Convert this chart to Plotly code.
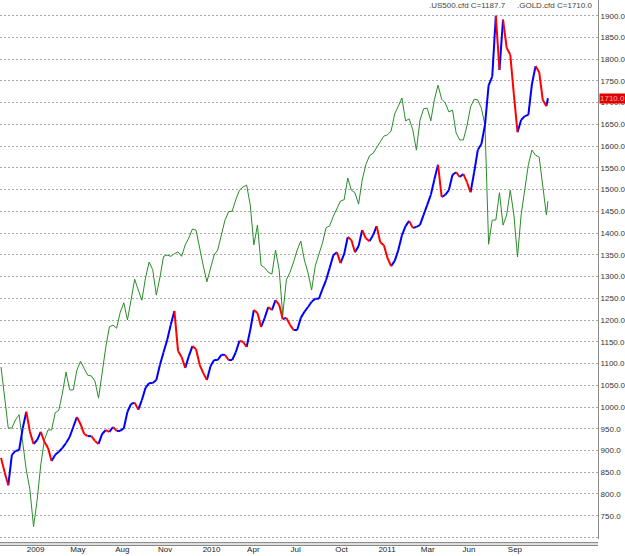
import plotly.graph_objects as go
import pandas as pd

# ---------------- data (weekly closes) ----------------
week_start = "2009-01-02"
last_day = "2011-11-28"

gold = [883, 850, 820, 890, 899, 901, 951, 989, 943, 915,
        924, 943, 920, 906, 876, 890, 897, 906, 917, 931,
        954, 977, 961, 938, 933, 933, 922, 915, 938, 947,
        943, 954, 945, 945, 951, 989, 1007, 1010, 994, 1016,
        1044, 1055, 1055, 1062, 1097, 1126, 1154, 1189, 1221, 1129,
        1115, 1090, 1117, 1140, 1133, 1097, 1078, 1062, 1094, 1108,
        1108, 1120, 1120, 1108, 1108, 1126, 1152, 1150, 1138, 1177,
        1223, 1216, 1184, 1205, 1230, 1223, 1246, 1235, 1202, 1205,
        1189, 1177, 1177, 1205, 1219, 1230, 1242, 1249, 1249, 1271,
        1292, 1320, 1349, 1356, 1331, 1352, 1391, 1384, 1356, 1370,
        1407, 1388, 1381, 1395, 1416, 1379, 1372, 1343, 1324, 1336,
        1361, 1395, 1416, 1428, 1412, 1414, 1419, 1442, 1465, 1488,
        1524, 1557, 1483, 1488, 1499, 1534, 1540, 1529, 1536, 1517,
        1494, 1540, 1591, 1605, 1649, 1740, 1760, 1900, 1775, 1891,
        1826, 1810, 1718, 1632, 1660, 1669, 1672, 1743, 1784, 1770,
        1706, 1692, 1710.0]

us500 = [927, 883, 831, 831, 844, 852, 812, 765, 734, 676,
         718, 773, 812, 828, 828, 855, 859, 886, 919, 891,
         891, 922, 936, 925, 914, 913, 905, 878, 922, 958,
         990, 993, 988, 1013, 1028, 1001, 1032, 1065, 1048, 1032,
         1067, 1092, 1080, 1040, 1068, 1101, 1103, 1101, 1105, 1108,
         1101, 1119, 1130, 1144, 1142, 1111, 1086, 1061, 1083, 1103,
         1111, 1135, 1158, 1171, 1172, 1190, 1205, 1210, 1213, 1182,
         1119, 1150, 1087, 1083, 1076, 1073, 1111, 1080, 1009, 1064,
         1076, 1092, 1111, 1125, 1095, 1075, 1048, 1086, 1103, 1122,
         1146, 1149, 1164, 1177, 1188, 1190, 1224, 1205, 1201, 1183,
         1221, 1245, 1259, 1263, 1273, 1281, 1290, 1292, 1298, 1325,
         1337, 1350, 1314, 1317, 1300, 1268, 1315, 1333, 1334, 1314,
         1348, 1370, 1348, 1342, 1328, 1331, 1295, 1284, 1284, 1306,
         1336, 1348, 1347, 1334, 1307, 1120, 1158, 1158, 1201, 1150,
         1166, 1205, 1166, 1100, 1166, 1204, 1245, 1268, 1260, 1257,
         1213, 1166, 1187.7]

x_tick_dates = ["2009-03-10", "2009-05-31", "2009-08-25", "2009-11-16",
                "2010-02-14", "2010-05-06", "2010-07-27", "2010-10-24",
                "2011-01-20", "2011-04-09", "2011-06-28", "2011-09-25"]
x_tick_labels = ["2009", "May", "Aug", "Nov", "2010", "Apr", "Jul", "Oct",
                 "2011", "Mar", "Jun", "Sep"]
y_tick_values = list(range(700, 1901, 50))

us500_title = ".US500.cfd C=1187.7"
gold_title = ".GOLD.cfd C=1710.0"

# ---------------- build ----------------
dates = list(pd.date_range(week_start, periods=len(gold) - 1, freq="7D")) + [pd.Timestamp(last_day)]

up_x, up_y, dn_x, dn_y = [], [], [], []
for i in range(len(gold) - 1):
    if gold[i + 1] >= gold[i]:
        up_x += [dates[i], dates[i + 1], None]
        up_y += [gold[i], gold[i + 1], None]
    else:
        dn_x += [dates[i], dates[i + 1], None]
        dn_y += [gold[i], gold[i + 1], None]

fig = go.Figure()
fig.add_trace(go.Scatter(x=dates, y=us500, mode="lines", yaxis="y",
                         line=dict(color="#2a8c2a", width=1), name=".US500.cfd"))
fig.add_trace(go.Scatter(x=up_x, y=up_y, mode="lines", yaxis="y2",
                         line=dict(color="#0000ff", width=2), name="GOLD up"))
fig.add_trace(go.Scatter(x=dn_x, y=dn_y, mode="lines", yaxis="y2",
                         line=dict(color="#ff0000", width=2), name="GOLD down"))

fig.update_layout(
    width=625, height=556,
    margin=dict(l=0, r=27, t=0, b=17),
    paper_bgcolor="white", plot_bgcolor="white",
    showlegend=False,
    font=dict(family="Liberation Sans, Arial, sans-serif", size=8, color="#333333"),
    xaxis=dict(type="date", range=["2008-12-31", "2012-03-04"],
               tickvals=x_tick_dates, ticktext=x_tick_labels,
               showgrid=False, showline=False, zeroline=False, ticks="",
               tickfont=dict(size=8, color="#222222"), ticklabelstandoff=4),
    yaxis=dict(range=[656.6, 1504.0], visible=False, fixedrange=True),
    yaxis2=dict(overlaying="y", side="right", range=[696.4, 1936.1],
                tickvals=y_tick_values,
                ticktext=["" if v == 700 else f"{v:.1f}" for v in y_tick_values],
                showgrid=True, gridcolor="#a8a8a8", griddash="2px,2px", gridwidth=1,
                showline=True, linecolor="#8c8c8c", linewidth=1,
                ticks="", zeroline=False,
                tickfont=dict(size=8, color="#333333")),
    shapes=[
        dict(type="line", xref="paper", yref="paper", x0=0, x1=1, y0=-0.0069, y1=-0.0069,
             line=dict(color="#6a6a6a", width=1)),
        dict(type="line", xref="paper", yref="paper", x0=0, x1=1, y0=-0.0117, y1=-0.0117,
             line=dict(color="#6a6a6a", width=1)),
    ],
    annotations=[
        dict(text=us500_title, xref="paper", yref="paper", x=427 / 598, y=0.989,
             xanchor="left", yanchor="middle", showarrow=False,
             font=dict(size=8, color="#444444")),
        dict(text=gold_title, xref="paper", yref="paper", x=515 / 598, y=0.989,
             xanchor="left", yanchor="middle", showarrow=False,
             font=dict(size=8, color="#444444")),
        dict(text=f"{gold[-1]:.1f}", xref="paper", yref="y2", x=1, y=gold[-1],
             xanchor="left", yanchor="middle", xshift=1, showarrow=False,
             bgcolor="#e00000", borderpad=0,
             font=dict(size=8, color="#ffb0b0")),
        dict(text="700.0", xref="paper", yref="paper", x=1, y=-0.0245,
             xanchor="left", yanchor="top", xshift=1, showarrow=False,
             font=dict(size=8, color="#333333")),
    ],
)

fig.write_html("out.html")
